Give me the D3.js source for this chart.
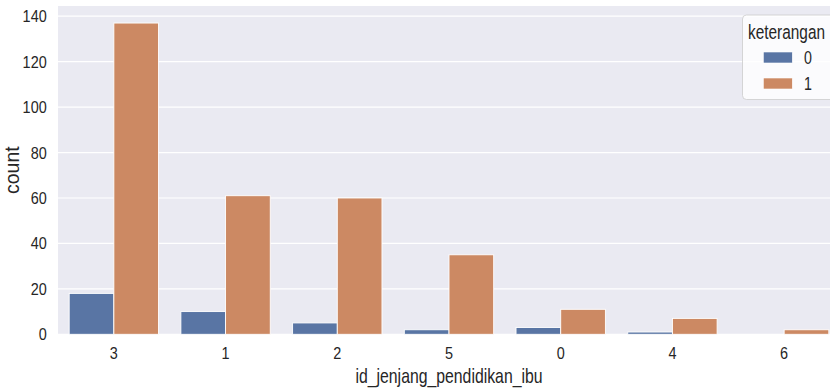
<!DOCTYPE html>
<html><head><meta charset="utf-8">
<script src="https://cdn.jsdelivr.net/npm/d3@7"></script>
<style>html,body{margin:0;padding:0;background:#fff;overflow:hidden}</style>
</head><body>
<svg id="chart" width="830" height="390"></svg>
<script>
const categories = ["3","1","2","5","0","4","6"];
const hueLevels = ["0","1"];
const counts0 = [18,10,5,2,3,1,0];
const counts1 = [137,61,60,35,11,7,2];
const yTicks = [0,20,40,60,80,100,120,140];
const xLabel = "id_jenjang_pendidikan_ibu";
const yLabel = "count";
const legendTitle = "keterangan";
const colors = ["#5975a4","#cc8963"];

const svg = d3.select("#chart");
const m = {left:58, right:840, top:6, bottom:334.3};
const FONT = "'Liberation Sans', Arial, sans-serif";
const SX = 0.79;
const SXT = 0.86;

svg.append("rect").attr("x",m.left).attr("y",m.top)
  .attr("width",m.right-m.left).attr("height",m.bottom-m.top).attr("fill","#eaeaf2");

const x = d3.scaleBand().domain(categories).range([m.left,m.right]).paddingInner(0.2).paddingOuter(0.1);
const xs = d3.scaleBand().domain(hueLevels).range([0,x.bandwidth()]);
const y = d3.scaleLinear().domain([0,144.5]).range([m.bottom,m.top]);

svg.append("g").selectAll("line").data(yTicks).join("line")
  .attr("x1",m.left).attr("x2",m.right)
  .attr("y1",d=>y(d)).attr("y2",d=>y(d))
  .attr("stroke","#fff").attr("stroke-width",1.2);

function txt(g, s, px, py, size, anchor, sx){
  return g.append("text").attr("transform",`translate(${px},${py}) scale(${sx},1)`)
    .attr("text-anchor",anchor).attr("font-family",FONT).attr("font-size",size)
    .attr("fill","#262626").text(s);
}

const series = [counts0, counts1];
const bars = svg.append("g");
series.forEach((vals,si)=>{
  bars.selectAll(null).data(categories).join("rect")
    .attr("x",c=>x(c)+xs(hueLevels[si]))
    .attr("width",xs.bandwidth())
    .attr("y",(c,i)=>y(vals[i]))
    .attr("height",(c,i)=>y(0)-y(vals[i]))
    .attr("fill",colors[si])
    .attr("stroke","#ffffff").attr("stroke-width",0.9);
});

const ga = svg.append("g");
yTicks.forEach(t=>{
  txt(ga, String(t), 46.7, y(t)+6, 16.8, "end", SXT);
});
categories.forEach(c=>{
  txt(ga, c, x(c)+x.bandwidth()/2, 359, 16.8, "middle", SXT);
});
txt(ga, xLabel, (m.left+m.right)/2, 382.7, 20, "middle", SX);
ga.append("text").attr("transform",`translate(19.3,${(m.top+m.bottom)/2}) rotate(-90)`)
  .attr("text-anchor","middle").attr("font-family",FONT).attr("font-size",19.5)
  .attr("fill","#262626").text(yLabel);

const lg = svg.append("g");
lg.append("rect").attr("x",742.5).attr("y",15).attr("width",110).attr("height",84.5).attr("rx",4)
  .attr("fill","#ffffff").attr("fill-opacity",0.8).attr("stroke","#cccccc").attr("stroke-width",0.8);
txt(lg, legendTitle, 748, 39.3, 19.5, "start", SX);
hueLevels.forEach((h,i)=>{
  const cy = 57.5 + i*26;
  lg.append("rect").attr("x",763.3).attr("y",cy-5.5).attr("width",29).attr("height",11)
    .attr("fill",colors[i]).attr("stroke","#ffffff").attr("stroke-width",0.6);
  txt(lg, h, 804, cy+6.5, 18, "start", SX);
});
</script>
</body></html>
